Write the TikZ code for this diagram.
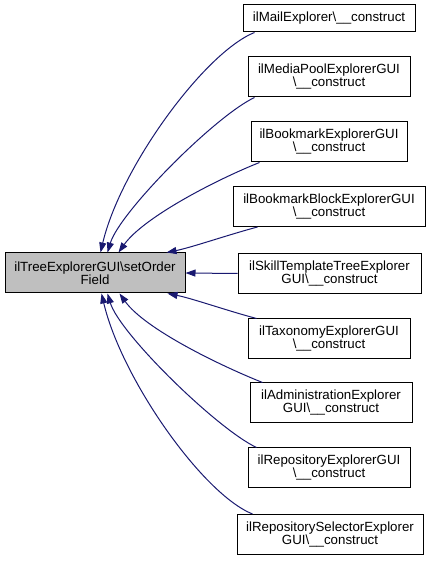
\documentclass[tikz,border=0pt]{standalone}
\usepackage{fontspec}
\setmainfont{Liberation Sans}
\usepackage{xcolor}
\usetikzlibrary{arrows.meta}

\definecolor{edgeblue}{HTML}{191970}
\definecolor{mainfill}{HTML}{BFBFBF}

\begin{document}
\begin{tikzpicture}[x=1pt, y=1pt,
		box/.style={draw=black, line width=1pt, align=center, inner sep=0pt,
			minimum height=40, font=\fontsize{13.3}{13}\selectfont},
		callarrow/.style={draw=edgeblue, line width=1pt, -{Triangle[length=10pt, width=7pt]}}]
			\useasboundingbox (0,0) rectangle (431,561);

			% the called method
			\node [box, fill=mainfill, minimum width=180] (main) at (95,288) {ilTreeExplorerGUI\textbackslash setOrder\\Field};

			% the callers
			\begin{scope}
				\node [box, minimum width=172, minimum height=27] (mail) at (329,542.5) {ilMailExplorer\textbackslash\_\_construct};
				\node [box, minimum width=162] (mediapool) at (329,484) {ilMediaPoolExplorerGUI\\\textbackslash\_\_construct};
				\node [box, minimum width=156] (bookmark) at (329,419) {ilBookmarkExplorerGUI\\\textbackslash\_\_construct};
				\node [box, minimum width=192] (bmblock) at (329,354.5) {ilBookmarkBlockExplorerGUI\\\textbackslash\_\_construct};
				\node [box, minimum width=183] (skilltree) at (329.5,287.5) {ilSkillTemplateTreeExplorer\\GUI\textbackslash\_\_construct};
				\node [box, minimum width=162] (taxonomy) at (329,222) {ilTaxonomyExplorerGUI\\\textbackslash\_\_construct};
				\node [box, minimum width=162] (admin) at (331,158) {ilAdministrationExplorer\\GUI\textbackslash\_\_construct};
				\node [box, minimum width=162] (repository) at (329,93) {ilRepositoryExplorerGUI\\\textbackslash\_\_construct};
				\node [box, minimum width=186] (reposelector) at (330,26.5) {ilRepositorySelectorExplorer\\GUI\textbackslash\_\_construct};
			\end{scope}

			% calls, from above
			\begin{scope}[callarrow]
				\draw ([xshift=12]mail.south west) .. controls +(-50,-20) and +(20,85) .. ([xshift=96]main.north west);
				\draw ([xshift=7]mediapool.south west) .. controls +(-40,-19) and +(12,40) .. ([xshift=103]main.north west);
				\draw ([xshift=9]bookmark.south west) .. controls +(-45,-18) and +(25,35) .. ([xshift=114]main.north west);
				\draw ([xshift=25]bmblock.south west) .. controls +(-30,-8) and +(25,5) .. ([xshift=162]main.north west);
				\draw (skilltree.west) -- (main.east);
			\end{scope}

			% calls, from below
			\begin{scope}[callarrow]
				\draw ([xshift=9]taxonomy.north west) .. controls +(-30,8) and +(25,-5) .. ([xshift=163]main.south west);
				\draw ([xshift=13]admin.north west) .. controls +(-45,18) and +(25,-35) .. ([xshift=115]main.south west);
				\draw ([xshift=9]repository.north west) .. controls +(-40,19) and +(12,-40) .. ([xshift=103]main.south west);
				\draw ([xshift=16]reposelector.north west) .. controls +(-50,20) and +(20,-85) .. ([xshift=97]main.south west);
			\end{scope}
		\end{tikzpicture}
\end{document}
